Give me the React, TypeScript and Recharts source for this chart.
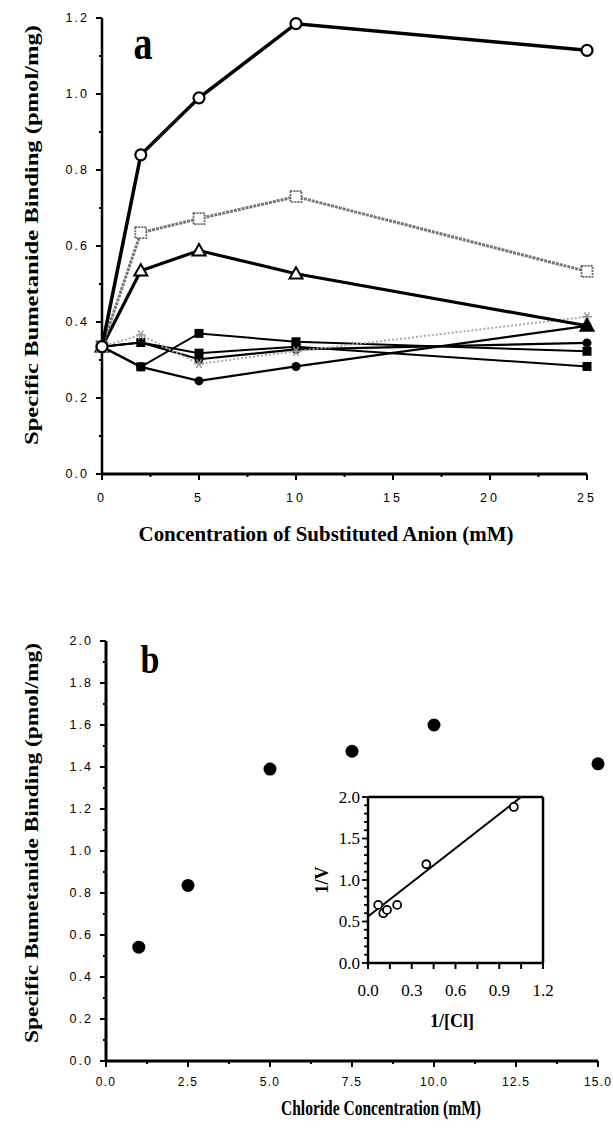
import React from 'react';
import { LineChart, Line, XAxis, YAxis, ScatterChart, Scatter, ReferenceLine } from 'recharts';

// ---------- Panel a data ----------
const concA = [0, 2, 5, 10, 25];
const openCircleVals = [0.335, 0.84, 0.99, 1.185, 1.115];
const openSquareVals = [0.335, 0.635, 0.672, 0.73, 0.533];
const openTriangleVals = [0.335, 0.535, 0.588, 0.527, 0.39];
const starVals = [0.335, 0.366, 0.29, 0.323, 0.414];
const filledSquareAVals = [0.335, 0.282, 0.37, 0.348, 0.323];
const filledCircleAVals = [0.335, 0.282, 0.245, 0.283, 0.39];
const filledSquareBVals = [0.335, 0.346, 0.318, 0.335, 0.283];
const filledCircleBVals = [0.335, 0.346, 0.302, 0.328, 0.345];

const yTicksA = [0, 0.1, 0.2, 0.3, 0.4, 0.5, 0.6, 0.7, 0.8, 0.9, 1.0, 1.1, 1.2];
const yLabelsA = [0, 0.2, 0.4, 0.6, 0.8, 1.0, 1.2];
const xTicksA = [0, 2.5, 5, 7.5, 10, 12.5, 15, 17.5, 20, 22.5, 25];
const xLabelsA = [0, 5, 10, 15, 20, 25];

// ---------- Panel b data ----------
const chlorideConc = [1, 2.5, 5, 7.5, 10, 15];
const bindingB = [0.542, 0.836, 1.39, 1.475, 1.6, 1.415];
const yTicksB = [0, 0.1, 0.2, 0.3, 0.4, 0.5, 0.6, 0.7, 0.8, 0.9, 1.0, 1.1, 1.2, 1.3, 1.4, 1.5, 1.6, 1.7, 1.8, 1.9, 2.0];
const yLabelsB = [0, 0.2, 0.4, 0.6, 0.8, 1.0, 1.2, 1.4, 1.6, 1.8, 2.0];
const xTicksB = [0, 1.25, 2.5, 3.75, 5, 6.25, 7.5, 8.75, 10, 11.25, 12.5, 13.75, 15];
const xLabelsB = [0, 2.5, 5, 7.5, 10, 12.5, 15];

// ---------- Inset data ----------
const invCl = [0.07, 0.105, 0.13, 0.2, 0.4, 1.0];
const invV = [0.7, 0.6, 0.64, 0.7, 1.19, 1.88];
const fitX = [0, 1.05];
const fitY = [0.56, 2.0];
const yTicksI = [0, 0.1, 0.2, 0.3, 0.4, 0.5, 0.6, 0.7, 0.8, 0.9, 1.0, 1.1, 1.2, 1.3, 1.4, 1.5, 1.6, 1.7, 1.8, 1.9, 2.0];
const yLabelsI = [0, 0.5, 1.0, 1.5, 2.0];
const xTicksI = [0, 0.15, 0.3, 0.45, 0.6, 0.75, 0.9, 1.05, 1.2];
const xLabelsI = [0, 0.3, 0.6, 0.9, 1.2];

const rowsA = concA.map((c, i) => ({
  c,
  oc: openCircleVals[i],
  os: openSquareVals[i],
  ot: openTriangleVals[i],
  st: starVals[i],
  fsa: filledSquareAVals[i],
  fca: filledCircleAVals[i],
  fsb: filledSquareBVals[i],
  fcb: filledCircleBVals[i],
}));
const rowsB = chlorideConc.map((x, i) => ({ x, y: bindingB[i] }));
const rowsI = invCl.map((x, i) => ({ x, y: invV[i] }));
const rowsFit = fitX.map((x, i) => ({ x, y: fitY[i] }));

const SANS = '"Liberation Sans", Arial, sans-serif';
const SERIF = '"Liberation Serif", "Times New Roman", serif';

const has = (arr: number[], v: number) => arr.some((a) => Math.abs(a - v) < 1e-6);

function makeYTick(labels: number[], fmt: (v: number) => string, o: any) {
  return (props: any) => {
    const { x, y, payload } = props;
    const v = payload.value;
    const major = has(labels, v);
    const len = major ? o.major : o.minor;
    return (
      <g>
        <line x1={x - len} x2={x} y1={y} y2={y} stroke="#000" strokeWidth={o.sw} />
        {major && (
          <text x={x - o.major - o.gap} y={y} textAnchor="end" dominantBaseline="central"
            fontFamily={o.font} fontSize={o.size} fill="#000" letterSpacing={o.ls || 0}>
            {fmt(v)}
          </text>
        )}
      </g>
    );
  };
}

function makeXTick(labels: number[], fmt: (v: number) => string, o: any) {
  return (props: any) => {
    const { x, y, payload } = props;
    const v = payload.value;
    const major = has(labels, v);
    const len = major ? o.major : o.minor;
    return (
      <g>
        <line x1={x} x2={x} y1={y} y2={y + len} stroke="#000" strokeWidth={o.sw} />
        {major && (
          <text x={x} y={y + o.dy} textAnchor="middle"
            fontFamily={o.font} fontSize={o.size} fill="#000" letterSpacing={o.ls || 0}>
            {fmt(v)}
          </text>
        )}
      </g>
    );
  };
}

// ---------- markers ----------
const OpenCircle = (p: any) => (
  <circle key={p.index} cx={p.cx} cy={p.cy} r={5.5} fill="#fff" stroke="#000" strokeWidth={2.2} />
);
const OpenSquare = (p: any) => (
  <rect key={p.index} x={p.cx - 5.5} y={p.cy - 5.5} width={11} height={11} fill="#fff" stroke="#666" strokeWidth={1.8} strokeDasharray="2 1" />
);
const OpenTriangle = (p: any) => {
  const s = 6.5;
  const last = p.index === concA.length - 1;
  const pts = `${p.cx},${p.cy - s} ${p.cx - s},${p.cy + s * 0.75} ${p.cx + s},${p.cy + s * 0.75}`;
  return <polygon key={p.index} points={pts} fill={last ? '#000' : '#fff'} stroke="#000" strokeWidth={2} />;
};
const Star = (p: any) => {
  const r = 5;
  return (
    <g key={p.index} stroke="#999" strokeWidth={1.5}>
      <line x1={p.cx - r} x2={p.cx + r} y1={p.cy} y2={p.cy} />
      <line x1={p.cx - r * 0.5} x2={p.cx + r * 0.5} y1={p.cy - r * 0.87} y2={p.cy + r * 0.87} />
      <line x1={p.cx + r * 0.5} x2={p.cx - r * 0.5} y1={p.cy - r * 0.87} y2={p.cy + r * 0.87} />
    </g>
  );
};
const FilledSquare = (p: any) => (
  <rect key={p.index} x={p.cx - 4.5} y={p.cy - 4.5} width={9} height={9} fill="#000" />
);
const FilledCircle = (p: any) => (
  <circle key={p.index} cx={p.cx} cy={p.cy} r={4.5} fill="#000" />
);

const fmt1 = (v: number) => v.toFixed(1);
const fmt0 = (v: number) => String(v);

export default function App() {
  return (
    <div style={{ position: 'absolute', left: 0, top: 0, width: 613, height: 1131, background: '#fff', overflow: 'hidden' }}>
      {/* Panel a */}
      <div style={{ position: 'absolute', left: 0, top: 0 }}>
        <LineChart width={613} height={560} data={rowsA} margin={{ top: 18, right: 26, bottom: 56, left: 42 }}>
          <XAxis type="number" dataKey="c" domain={[0, 25]} ticks={xTicksA} interval={0} height={30}
            tickSize={0} tickMargin={0} axisLine={{ stroke: '#000', strokeWidth: 3 }}
            tick={makeXTick(xLabelsA, fmt0, { major: 6, minor: 3, sw: 2, dy: 28, font: SANS, size: 12.5, ls: 3 })} />
          <YAxis type="number" domain={[0, 1.2]} ticks={yTicksA} interval={0} width={60}
            tickSize={0} tickMargin={0} axisLine={{ stroke: '#000', strokeWidth: 2.5 }}
            tick={makeYTick(yLabelsA, fmt1, { major: 6, minor: 3, sw: 2, gap: 7, font: SANS, size: 12.5, ls: 2 })} />
          <Line dataKey="fca" stroke="#000" strokeWidth={2.2} dot={FilledCircle} activeDot={false} isAnimationActive={false} />
          <Line dataKey="fsa" stroke="#000" strokeWidth={2} dot={FilledSquare} activeDot={false} isAnimationActive={false} />
          <Line dataKey="fsb" stroke="#000" strokeWidth={2} dot={FilledSquare} activeDot={false} isAnimationActive={false} />
          <Line dataKey="fcb" stroke="#000" strokeWidth={2.2} dot={FilledCircle} activeDot={false} isAnimationActive={false} />
          <Line dataKey="st" stroke="#aaa" strokeWidth={2} strokeDasharray="2 2" dot={Star} activeDot={false} isAnimationActive={false} />
          <Line dataKey="ot" stroke="#000" strokeWidth={3.2} dot={OpenTriangle} activeDot={false} isAnimationActive={false} />
          <Line dataKey="os" stroke="#777" strokeWidth={3} strokeDasharray="3 1" dot={OpenSquare} activeDot={false} isAnimationActive={false} />
          <Line dataKey="oc" stroke="#000" strokeWidth={3.5} dot={OpenCircle} activeDot={false} isAnimationActive={false} />
        </LineChart>
      </div>

      {/* Panel b */}
      <div style={{ position: 'absolute', left: 0, top: 580 }}>
        <ScatterChart width={613} height={551} margin={{ top: 61, right: 15, bottom: 40, left: 46 }}>
          <XAxis type="number" dataKey="x" domain={[0, 15]} ticks={xTicksB} interval={0} height={30}
            tickSize={0} tickMargin={0} axisLine={{ stroke: '#000', strokeWidth: 3 }}
            tick={makeXTick(xLabelsB, fmt1, { major: 6, minor: 3, sw: 2, dy: 25, font: SANS, size: 12, ls: 1.2 })} />
          <YAxis type="number" dataKey="y" domain={[0, 2]} ticks={yTicksB} interval={0} width={60}
            tickSize={0} tickMargin={0} axisLine={{ stroke: '#000', strokeWidth: 3 }}
            tick={makeYTick(yLabelsB, fmt1, { major: 6, minor: 3, sw: 2, gap: 7, font: SANS, size: 12.5, ls: 2 })} />
          <Scatter data={rowsB} isAnimationActive={false}
            shape={(p: any) => <circle cx={p.cx} cy={p.cy} r={6.5} fill="#000" />} />
        </ScatterChart>
      </div>

      {/* Inset */}
      <div style={{ position: 'absolute', left: 300, top: 770 }}>
        <ScatterChart width={260} height={270} margin={{ top: 27, right: 17, bottom: 47, left: 8 }}>
          <XAxis type="number" dataKey="x" domain={[0, 1.2]} ticks={xTicksI} interval={0} height={30}
            tickSize={0} tickMargin={0} axisLine={{ stroke: '#000', strokeWidth: 2.5 }}
            tick={makeXTick(xLabelsI, fmt1, { major: 6, minor: 6, sw: 2, dy: 33, font: SERIF, size: 17 })} />
          <YAxis type="number" dataKey="y" domain={[0, 2]} ticks={yTicksI} interval={0} width={60}
            tickSize={0} tickMargin={0} axisLine={{ stroke: '#000', strokeWidth: 2.5 }}
            tick={makeYTick(yLabelsI, fmt1, { major: 6, minor: 4, sw: 1.8, gap: 2, font: SERIF, size: 17 })} />
          <ReferenceLine y={2} stroke="#000" strokeWidth={2.5} />
          <ReferenceLine x={1.2} stroke="#000" strokeWidth={2.5} />
          <Scatter data={rowsFit} isAnimationActive={false} line={{ stroke: '#000', strokeWidth: 2 }}
            shape={() => <g />} />
          <Scatter data={rowsI} isAnimationActive={false}
            shape={(p: any) => <circle cx={p.cx} cy={p.cy} r={4} fill="#fff" stroke="#000" strokeWidth={1.8} />} />
        </ScatterChart>
      </div>

      {/* Titles */}
      <svg width={613} height={1131} style={{ position: 'absolute', left: 0, top: 0, pointerEvents: 'none' }}>
        <text transform="translate(143,59) scale(1,1.25)" textAnchor="middle" fontFamily={SERIF} fontWeight="bold" fontSize={38}>a</text>
        <text transform="translate(150,673) scale(1,1.15)" textAnchor="middle" fontFamily={SERIF} fontWeight="bold" fontSize={34}>b</text>
        <text transform="translate(38,235) rotate(-90)" textAnchor="middle" fontFamily={SERIF} fontWeight="bold"
          fontSize={19} textLength={420} lengthAdjust="spacingAndGlyphs">Specific  Bumetanide  Binding  (pmol/mg)</text>
        <text transform="translate(38,843) rotate(-90)" textAnchor="middle" fontFamily={SERIF} fontWeight="bold"
          fontSize={19} textLength={400} lengthAdjust="spacingAndGlyphs">Specific  Bumetanide  Binding  (pmol/mg)</text>
        <text x={326} y={541} textAnchor="middle" fontFamily={SERIF} fontWeight="bold" fontSize={20}
          textLength={375} lengthAdjust="spacingAndGlyphs">Concentration  of  Substituted  Anion  (mM)</text>
        <text x={381} y={1115} textAnchor="middle" fontFamily={SERIF} fontWeight="bold" fontSize={20}
          textLength={200} lengthAdjust="spacingAndGlyphs">Chloride  Concentration  (mM)</text>
        <text transform="translate(328,880) rotate(-90)" textAnchor="middle" fontFamily={SERIF} fontWeight="bold" fontSize={18}>1/V</text>
        <text x={452} y={1027} textAnchor="middle" fontFamily={SERIF} fontWeight="bold" fontSize={18}>1/[Cl]</text>
      </svg>
    </div>
  );
}
